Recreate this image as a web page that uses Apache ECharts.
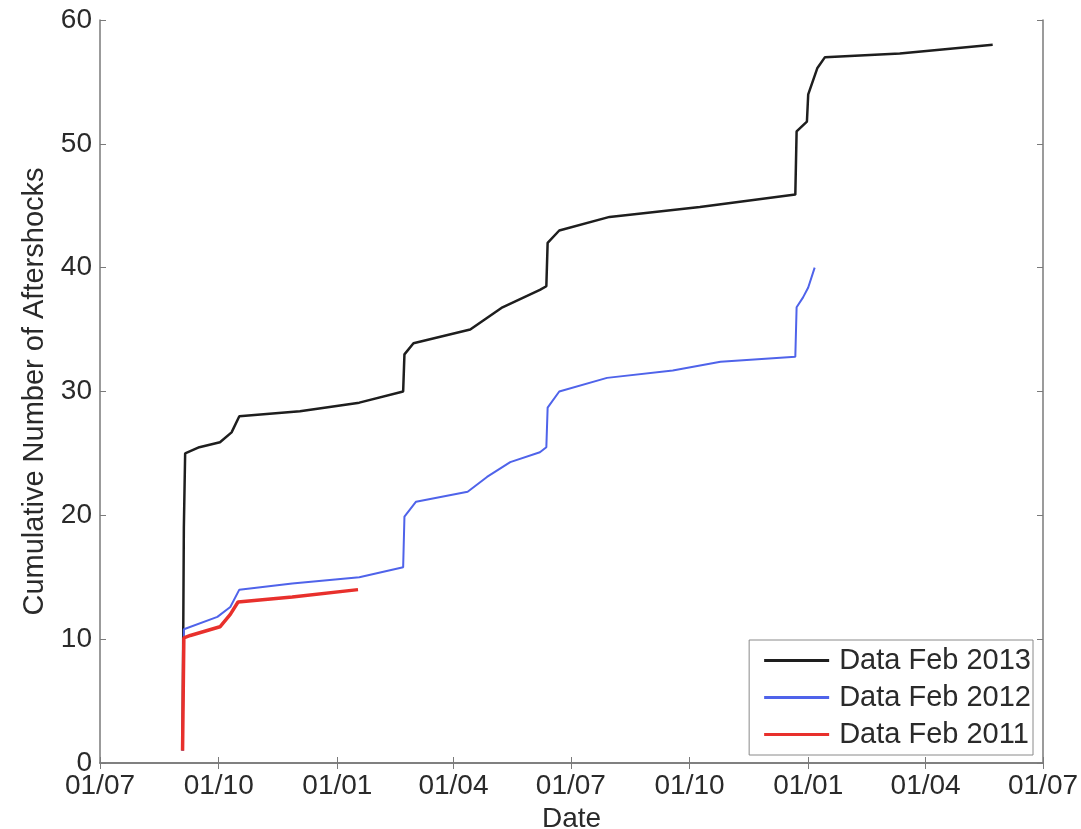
<html>
    <head>
        <meta charset="utf-8">
        <script src="https://cdn.jsdelivr.net/npm/echarts@6/dist/echarts.min.js"></script>
    </head>
    <body>
        <style>
            html, body, #main {
                width: 100%;
                height: 100%;
                margin: 0;
                background: #fff;
            }
        </style>
        <div id="main"></div>
        <script type="text/javascript">
            // axis range and quarterly ticks
            var axisStart = '2010-07-01';
            var axisEnd = '2012-07-01';
            var tickDates = ['2010-07-01', '2010-10-01', '2011-01-01', '2011-04-01', '2011-07-01',
                             '2011-10-01', '2012-01-01', '2012-04-01', '2012-07-01'];

            // Data Feb 2013
            var dates2013 = ['2010-09-03', '2010-09-04', '2010-09-05', '2010-09-16', '2010-10-02', '2010-10-11',
                             '2010-10-17', '2010-12-03', '2011-01-18', '2011-02-21', '2011-02-22', '2011-03-01',
                             '2011-04-14', '2011-05-09', '2011-06-07', '2011-06-12', '2011-06-13', '2011-06-22',
                             '2011-07-31', '2011-10-09', '2011-12-22', '2011-12-23', '2011-12-31', '2012-01-01',
                             '2012-01-08', '2012-01-14', '2012-03-12', '2012-05-23'];
            var counts2013 = [1, 19, 25, 25.5, 25.9, 26.7,
                              28, 28.4, 29.1, 30, 33, 33.9,
                              35, 36.8, 38.2, 38.5, 42, 43,
                              44.1, 44.9, 45.9, 51, 51.8, 54,
                              56.1, 57, 57.3, 58];

            // Data Feb 2012
            var dates2012 = ['2010-09-03', '2010-09-04', '2010-09-30', '2010-10-10', '2010-10-17', '2010-11-27',
                             '2011-01-18', '2011-02-21', '2011-02-22', '2011-03-03', '2011-04-12', '2011-04-27',
                             '2011-05-15', '2011-06-07', '2011-06-12', '2011-06-13', '2011-06-22', '2011-07-29',
                             '2011-09-18', '2011-10-25', '2011-12-22', '2011-12-23', '2011-12-28', '2012-01-01',
                             '2012-01-06'];
            var counts2012 = [1, 10.8, 11.8, 12.6, 14, 14.5,
                              15, 15.8, 19.9, 21.1, 21.9, 23.1,
                              24.3, 25.1, 25.5, 28.7, 30, 31.1,
                              31.7, 32.4, 32.8, 36.8, 37.6, 38.4,
                              40];

            // Data Feb 2011
            var dates2011 = ['2010-09-03', '2010-09-04', '2010-09-09', '2010-10-02', '2010-10-10', '2010-10-16',
                             '2010-11-27', '2011-01-17'];
            var counts2011 = [1, 10.1, 10.3, 11, 12, 13,
                              13.4, 14];

            function toTime(s) {
                var p = s.split('-');
                return new Date(+p[0], +p[1] - 1, +p[2]).getTime();
            }
            function pairs(dates, counts) {
                var out = [];
                for (var i = 0; i < dates.length; i++) {
                    out.push([toTime(dates[i]), counts[i]]);
                }
                return out;
            }
            function pad(n) {
                return (n < 10 ? '0' : '') + n;
            }

            var tickTimes = tickDates.map(toTime);
            var font = 'Liberation Sans, Arial, Helvetica, sans-serif';
            var axisGray = '#7a7a7a';
            var textGray = '#2a2a2a';

            var chart = echarts.init(document.getElementById('main'));

            // x is a plain value axis holding timestamps, ticks placed on the quarter starts
            var option = {
                animation: false,
                grid: { left: 100, top: 20, right: 38, bottom: 66, containLabel: false, outerBoundsMode: 'none' },
                legend: {
                    orient: 'vertical',
                    right: 48,
                    bottom: 74,
                    icon: 'rect',
                    itemWidth: 65,
                    itemHeight: 3,
                    itemGap: 8,
                    padding: [6, 2, 6, 15],
                    borderColor: '#8a8a8a',
                    borderWidth: 1,
                    backgroundColor: '#fff',
                    textStyle: { fontFamily: font, fontSize: 29, lineHeight: 28, color: textGray, padding: [0, 0, 0, 5] },
                    data: ['Data Feb 2013', 'Data Feb 2012', 'Data Feb 2011']
                },
                xAxis: [{
                    type: 'value',
                    min: toTime(axisStart),
                    max: toTime(axisEnd),
                    name: 'Date',
                    nameLocation: 'middle',
                    nameGap: 42,
                    nameTextStyle: { fontFamily: font, fontSize: 28, color: textGray },
                    axisLine: { lineStyle: { color: axisGray, width: 1.5 } },
                    axisTick: { inside: true, length: 6, customValues: tickTimes, lineStyle: { color: axisGray } },
                    splitLine: { show: false },
                    axisLabel: {
                        customValues: tickTimes,
                        hideOverlap: false,
                        showMinLabel: true,
                        showMaxLabel: true,
                        margin: 9,
                        fontFamily: font,
                        fontSize: 28,
                        color: textGray,
                        formatter: function (v) {
                            var d = new Date(v);
                            return pad(d.getDate()) + '/' + pad(d.getMonth() + 1);
                        }
                    }
                }, {
                    type: 'value',
                    position: 'top',
                    min: toTime(axisStart),
                    max: toTime(axisEnd),
                    axisLine: { lineStyle: { color: axisGray, width: 1.5 } },
                    axisTick: { inside: true, length: 6, customValues: tickTimes, lineStyle: { color: axisGray } },
                    axisLabel: { show: false },
                    splitLine: { show: false }
                }],
                yAxis: [{
                    type: 'value',
                    min: 0,
                    max: 60,
                    interval: 10,
                    name: 'Cumulative Number of Aftershocks',
                    nameLocation: 'middle',
                    nameGap: 50,
                    nameTextStyle: { fontFamily: font, fontSize: 29, color: textGray },
                    axisLine: { show: true, lineStyle: { color: axisGray, width: 1.5 } },
                    axisTick: { show: true, inside: true, length: 6, lineStyle: { color: axisGray } },
                    splitLine: { show: false },
                    axisLabel: {
                        margin: 8,
                        fontFamily: font,
                        fontSize: 28,
                        color: textGray
                    }
                }, {
                    type: 'value',
                    position: 'right',
                    min: 0,
                    max: 60,
                    interval: 10,
                    axisLine: { show: true, lineStyle: { color: axisGray, width: 1.5 } },
                    axisTick: { show: true, inside: true, length: 6, lineStyle: { color: axisGray } },
                    axisLabel: { show: false },
                    splitLine: { show: false }
                }],
                series: [{
                    name: 'Data Feb 2013',
                    type: 'line',
                    symbol: 'none',
                    lineStyle: { color: '#1e1e1e', width: 2.5 },
                    itemStyle: { color: '#1e1e1e' },
                    data: pairs(dates2013, counts2013)
                }, {
                    name: 'Data Feb 2012',
                    type: 'line',
                    symbol: 'none',
                    lineStyle: { color: '#4f63ea', width: 2 },
                    itemStyle: { color: '#4f63ea' },
                    data: pairs(dates2012, counts2012)
                }, {
                    name: 'Data Feb 2011',
                    type: 'line',
                    symbol: 'none',
                    lineStyle: { color: '#e8302c', width: 3.5 },
                    itemStyle: { color: '#e8302c' },
                    data: pairs(dates2011, counts2011)
                }]
            };
            chart.setOption(option);
            window.onresize = chart.resize;
        </script>
    </body>
</html>
